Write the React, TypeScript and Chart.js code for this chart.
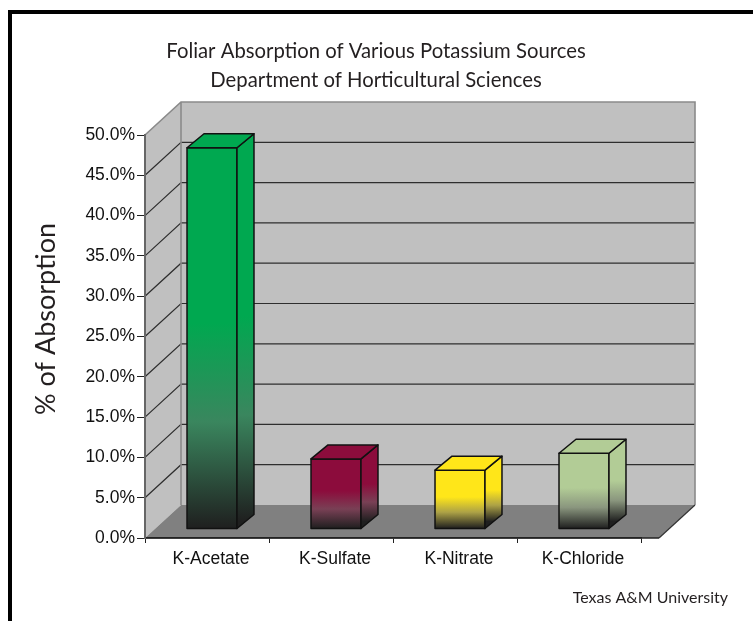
import React, { useEffect, useRef } from 'react';
import { Chart, registerables } from 'chart.js';

Chart.register(...registerables);

// ---- data ----
const categories = ['K-Acetate', 'K-Sulfate', 'K-Nitrate', 'K-Chloride'];
const absorption = [47.3, 8.7, 7.3, 9.4];
const barColors = ['#00A850', '#8C0C3C', '#FFE619', '#B2CC96'];
const titleLines = ['Foliar Absorption of Various Potassium Sources', 'Department of Horticultural Sciences'];
const yAxisTitle = '% of Absorption';
const creditText = 'Texas A&M University';
const yMin = 0;
const yMax = 50;
const yStep = 5;

// ---- 3D look (style constants) ----
const DX = 36;
const DY = -33;
const FLOOR_EXTRA = 18;
const BAR_SHIFT_X = 5;
const BAR_SHIFT_Y = -9;
const BAR_DX = 17;
const BAR_DY = -14;

function hexToRgb(h: string) {
  const n = parseInt(h.slice(1), 16);
  return [(n >> 16) & 255, (n >> 8) & 255, n & 255];
}
function mix(a: string, b: string, t: number) {
  const A = hexToRgb(a), B = hexToRgb(b);
  const c = A.map((v, i) => Math.round(v * (1 - t) + B[i] * t));
  return `rgb(${c[0]},${c[1]},${c[2]})`;
}

function poly(ctx: CanvasRenderingContext2D, pts: number[][]) {
  ctx.beginPath();
  ctx.moveTo(pts[0][0], pts[0][1]);
  for (let i = 1; i < pts.length; i++) ctx.lineTo(pts[i][0], pts[i][1]);
  ctx.closePath();
}

const threeD = {
  id: 'threeD',
  beforeDraw(chart: any) {
    const { ctx, chartArea: a, scales } = chart;
    const ys = scales.y;
    const L = a.left;
    const R = a.right + FLOOR_EXTRA;
    const T = ys.getPixelForValue(yMax);
    const B = ys.getPixelForValue(yMin);
    ctx.save();
    ctx.fillStyle = '#ffffff';
    ctx.fillRect(0, 0, chart.width, chart.height);
    // frame
    ctx.fillStyle = '#000';
    ctx.fillRect(8, 10, 4, chart.height);
    ctx.fillRect(8, 10, chart.width, 4);
    // back wall
    ctx.fillStyle = '#C0C0C0';
    ctx.fillRect(L + DX, T + DY, R - L, B - T);
    // side wall
    poly(ctx, [[L, B], [L, T], [L + DX, T + DY], [L + DX, B + DY]]);
    ctx.fill();
    // floor
    ctx.fillStyle = '#808080';
    poly(ctx, [[L, B], [L + DX, B + DY], [R + DX, B + DY], [R, B]]);
    ctx.fill();
    // gridlines
    ctx.strokeStyle = '#2e2e2e';
    ctx.lineWidth = 1.2;
    for (let v = yMin + yStep; v < yMax; v += yStep) {
      const y = ys.getPixelForValue(v);
      ctx.beginPath();
      ctx.moveTo(L, y);
      ctx.lineTo(L + DX, y + DY);
      ctx.lineTo(R + DX, y + DY);
      ctx.stroke();
    }
    // wall edges
    ctx.strokeStyle = '#8a8a8a';
    ctx.lineWidth = 1.6;
    ctx.beginPath();
    ctx.moveTo(L, T);
    ctx.lineTo(L + DX, T + DY);
    ctx.lineTo(R + DX, T + DY);
    ctx.lineTo(R + DX, B + DY);
    ctx.moveTo(L + DX, T + DY);
    ctx.lineTo(L + DX, B + DY);
    ctx.stroke();
    // floor edges
    ctx.strokeStyle = '#333';
    ctx.lineWidth = 1.2;
    ctx.beginPath();
    ctx.moveTo(R + DX, B + DY);
    ctx.lineTo(R, B);
    ctx.stroke();
    ctx.strokeStyle = '#222';
    ctx.lineWidth = 1.6;
    ctx.beginPath();
    ctx.moveTo(L, B);
    ctx.lineTo(R, B);
    ctx.stroke();
    ctx.restore();
  },
  afterDatasetsDraw(chart: any) {
    const { ctx } = chart;
    const meta = chart.getDatasetMeta(0);
    ctx.save();
    ctx.lineJoin = 'round';
    meta.data.forEach((bar: any, i: number) => {
      const { x, y, base, width } = bar.getProps(['x', 'y', 'base', 'width'], true);
      const color = barColors[i];
      const fl = x - width / 2 + BAR_SHIFT_X;
      const fr = x + width / 2 + BAR_SHIFT_X;
      const ft = y + BAR_SHIFT_Y;
      const fb = base + BAR_SHIFT_Y;
      const grad = (y0: number, y1: number) => {
        const g = ctx.createLinearGradient(0, y0, 0, y1);
        g.addColorStop(0, color);
        g.addColorStop(0.46, color);
        g.addColorStop(0.72, mix(color, '#6a6a6a', 0.55));
        g.addColorStop(1, '#1f1f1f');
        return g;
      };
      ctx.strokeStyle = '#111';
      ctx.lineWidth = 1.5;
      // front
      ctx.fillStyle = grad(ft, fb);
      ctx.fillRect(fl, ft, fr - fl, fb - ft);
      ctx.strokeRect(fl, ft, fr - fl, fb - ft);
      // side
      ctx.fillStyle = grad(ft + BAR_DY / 2, fb + BAR_DY / 2);
      poly(ctx, [[fr, ft], [fr + BAR_DX, ft + BAR_DY], [fr + BAR_DX, fb + BAR_DY], [fr, fb]]);
      ctx.fill();
      ctx.stroke();
      // top
      ctx.fillStyle = color;
      poly(ctx, [[fl, ft], [fl + BAR_DX, ft + BAR_DY], [fr + BAR_DX, ft + BAR_DY], [fr, ft]]);
      ctx.fill();
      ctx.stroke();
    });
    ctx.restore();
  },
  afterDraw(chart: any) {
    const { ctx } = chart;
    // main title
    ctx.save();
    ctx.fillStyle = '#231F20';
    ctx.font = '20.3px Lato';
    ctx.textAlign = 'center';
    ctx.textBaseline = 'alphabetic';
    ctx.fillText(titleLines[0], 376, 58);
    ctx.fillText(titleLines[1], 376, 87);
    ctx.restore();
    // y axis title
    ctx.save();
    ctx.fillStyle = '#231F20';
    ctx.font = '27px Lato';
    ctx.textAlign = 'center';
    ctx.textBaseline = 'middle';
    ctx.translate(46, 319);
    ctx.rotate(-Math.PI / 2);
    ctx.fillText(yAxisTitle, 0, 0);
    ctx.restore();
    // credit
    ctx.save();
    ctx.fillStyle = '#231F20';
    ctx.font = '16px Lato';
    ctx.textAlign = 'right';
    ctx.textBaseline = 'alphabetic';
    ctx.fillText(creditText, 728, 603);
    ctx.restore();
  },
};

export default function App() {
  const ref = useRef<HTMLCanvasElement | null>(null);
  useEffect(() => {
    if (!ref.current) return;
    const chart = new Chart(ref.current, {
      type: 'bar',
      data: {
        labels: categories,
        datasets: [
          {
            data: absorption,
            backgroundColor: 'rgba(0,0,0,0)',
            borderWidth: 0,
            categoryPercentage: 1,
            barPercentage: 0.403,
          },
        ],
      },
      options: {
        responsive: false,
        animation: false,
        devicePixelRatio: 1,
        layout: { padding: { left: 0, right: 112, top: 135, bottom: 0 } },
        plugins: {
          legend: { display: false },
          tooltip: { enabled: false },
          title: { display: false },
        },
        scales: {
          x: {
            offset: true,
            grid: { display: true, drawOnChartArea: false, drawTicks: true, tickLength: 5, color: '#222', offset: true },
            border: { display: true, color: '#222', width: 1.5 },
            ticks: {
              color: '#111',
              font: { family: 'Liberation Sans', size: 17.5 },
              padding: 6,
              labelOffset: 4,
              maxRotation: 0,
              autoSkip: false,
            },
            afterFit: (s: any) => {
              s.height = 83;
            },
          },
          y: {
            min: yMin,
            max: yMax,
            grid: { display: true, drawOnChartArea: false, drawTicks: true, tickLength: 8, color: '#222' },
            border: { display: true, color: '#666', width: 2 },
            ticks: {
              stepSize: yStep,
              color: '#111',
              font: { family: 'Liberation Sans', size: 17.5 },
              padding: 2,
              callback: (v: any) => Number(v).toFixed(1) + '%',
            },
            afterFit: (s: any) => {
              s.width = 145;
            },
          },
        },
      },
      plugins: [threeD],
    });
    return () => chart.destroy();
  }, []);
  return (
    <div style={{ position: 'absolute', left: 0, top: 0, width: 753, height: 621, background: '#fff' }}>
      <canvas ref={ref} width={753} height={621} style={{ display: 'block', width: 753, height: 621 }} />
    </div>
  );
}
